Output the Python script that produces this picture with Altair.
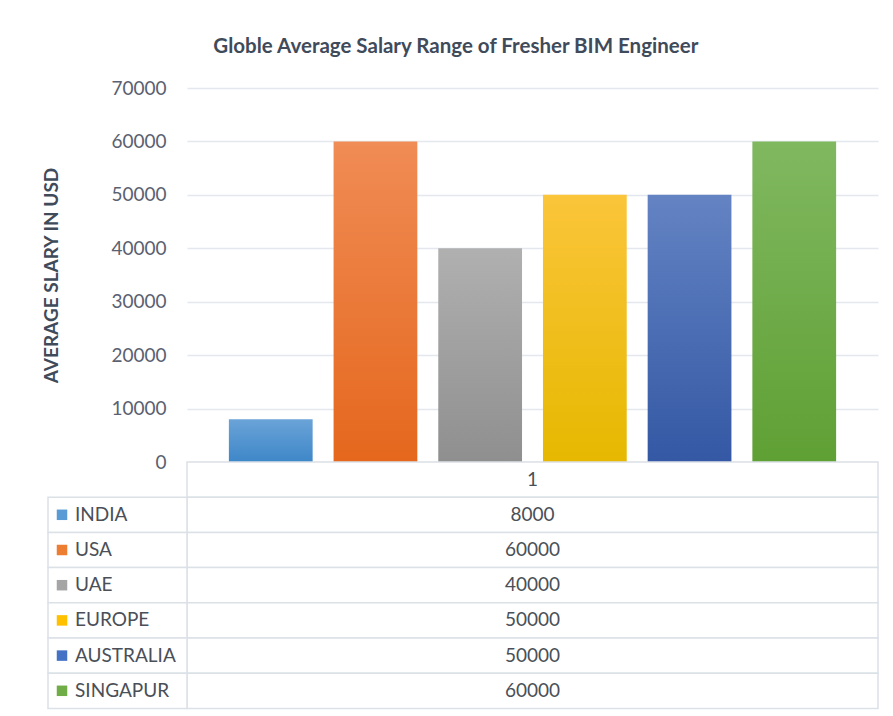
import altair as alt
import pandas as pd

countries = ["INDIA", "USA", "UAE", "EUROPE", "AUSTRALIA", "SINGAPUR"]
salaries = [8000, 60000, 40000, 50000, 50000, 60000]
top_colors = ["#6AA3D8", "#F08C55", "#B0B0B0", "#FBC53A", "#6383C3", "#80B860"]
bottom_colors = ["#3E87C8", "#E5671D", "#8F8F8F", "#E6B800", "#3458A4", "#5FA034"]
key_colors = ["#5B9BD5", "#ED7D31", "#A5A5A5", "#FFC000", "#4472C4", "#70AD47"]
category_label = "1"
y_ticks = [0, 10000, 20000, 30000, 40000, 50000, 60000, 70000]

title_text = "Globle Average Salary Range of Fresher BIM Engineer"
y_title = "AVERAGE SLARY IN USD"

FONT = "Lato"
W = 691
H = 374
ROW_H = 35.2
LEFT_W = 140

df = pd.DataFrame({"country": countries, "salary": salaries})

xscale = alt.Scale(domain=countries, paddingInner=0.2, paddingOuter=0.4)
yscale = alt.Scale(domain=[0, 70000], nice=False)
yaxis = alt.Axis(
    title=y_title, values=y_ticks, format="d", grid=True,
    gridColor="#E4E8EE", gridWidth=1.5, domain=False, ticks=False,
    labelFont=FONT, labelFontSize=19, labelColor="#5A6170",
    labelPadding=21, titleFont=FONT, titleFontSize=19,
    titleFontWeight="bold", titleColor="#3F4B5B", titlePadding=49,
)

layers = []
for i, c in enumerate(countries):
    grad = alt.Gradient(
        gradient="linear", x1=0, y1=0, x2=0, y2=1,
        stops=[alt.GradientStop(color=top_colors[i], offset=0),
               alt.GradientStop(color=bottom_colors[i], offset=1)],
    )
    layer = alt.Chart(df).transform_filter(alt.datum.country == c).mark_bar(
        color=grad
    ).encode(
        x=alt.X("country:N", scale=xscale, axis=None),
        y=alt.Y("salary:Q", scale=yscale, axis=yaxis),
    )
    layers.append(layer)

bars = alt.layer(*layers).properties(width=W, height=H)

# data table
rows = [category_label] + countries
values = [category_label] + [str(v) for v in salaries]
tdf = pd.DataFrame({"row": rows, "value": values,
                    "key": ["#FFFFFF"] + key_colors,
                    "is_country": [False] + [True] * len(countries)})

rscale = alt.Scale(domain=rows, paddingInner=0, paddingOuter=0)
ycol = alt.Y("row:N", scale=rscale, axis=None)
border = "#DCE1E8"

right_cells = alt.Chart(tdf).mark_rect(
    fill="#FFFFFF", stroke=border, strokeWidth=1.5
).encode(x=alt.value(0), x2=alt.value(W), y=ycol)

left_cells = alt.Chart(tdf).transform_filter(alt.datum.is_country).mark_rect(
    fill="#FFFFFF", stroke=border, strokeWidth=1.5
).encode(x=alt.value(-LEFT_W + 1), x2=alt.value(0), y=ycol)

ycenter = alt.Y("row:N", scale=rscale, axis=None, bandPosition=0.5)

value_text = alt.Chart(tdf).mark_text(
    font=FONT, fontSize=19, color="#4A4F58", align="center", baseline="middle"
).encode(x=alt.value(W / 2), y=ycenter, text="value:N")

keys = alt.Chart(tdf).transform_filter(alt.datum.is_country).mark_square(
    size=110, opacity=1
).encode(x=alt.value(-LEFT_W + 15), y=ycenter,
         color=alt.Color("key:N", scale=None))

label_text = alt.Chart(tdf).transform_filter(alt.datum.is_country).mark_text(
    font=FONT, fontSize=19, color="#4A4F58", align="left", baseline="middle"
).encode(x=alt.value(-LEFT_W + 28), y=ycenter, text="row:N")

table = alt.layer(right_cells, left_cells, value_text, keys, label_text).properties(
    width=W, height=ROW_H * len(rows)
)

chart = alt.vconcat(bars, table, spacing=0, bounds="flush").properties(
    title=alt.TitleParams(
        text=title_text, font=FONT, fontSize=20.5, fontWeight="bold",
        color="#3F4B5B", anchor="middle", frame="bounds", offset=22, dx=-5,
    ),
    padding={"left": 34, "top": 28, "right": 5, "bottom": 2},
    background="#FFFFFF",
).configure_view(strokeWidth=0)

chart.save("out.html", embed_options={"renderer": "svg", "actions": False})
